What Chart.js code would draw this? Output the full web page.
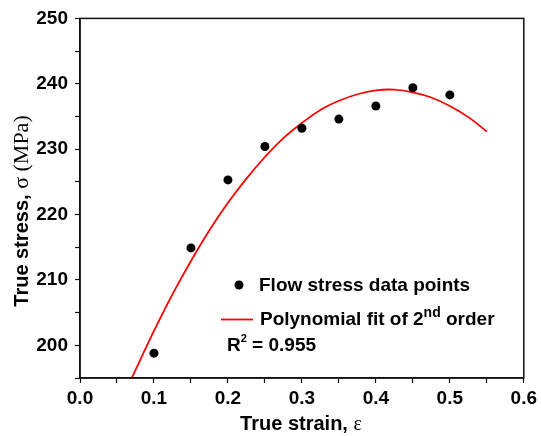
<html>
  <head>
    <script src="https://cdn.jsdelivr.net/npm/chart.js"></script>
    <style>
      body { margin: 0; background: #fff; }
      #wrap { width: 541px; height: 436px; position: relative; }
    </style>
  </head>
  <body>
    <div id="wrap"><canvas id="myChart"></canvas></div>
    <script>
      // measured flow stress at each strain
      const strain = [0.1, 0.15, 0.2, 0.25, 0.3, 0.35, 0.4, 0.45, 0.5];
      const stress = [198.8, 214.9, 225.3, 230.4, 233.2, 234.6, 236.6, 239.4, 238.3];

      // 2nd order polynomial fit, sampled along the curve
      const fitStrain = [0.07, 0.1, 0.125, 0.15, 0.175, 0.2, 0.225, 0.25, 0.275, 0.3, 0.325, 0.35,
        0.375, 0.4, 0.425, 0.45, 0.475, 0.5, 0.525, 0.55];
      const fitStress = [195.0, 202.2, 207.8, 212.9, 217.6, 221.8, 225.5, 228.8, 231.7, 234.0, 236.0, 237.4,
        238.4, 239.0, 239.1, 238.7, 237.9, 236.6, 234.9, 232.7];

      const xTicks = [0.0, 0.1, 0.2, 0.3, 0.4, 0.5, 0.6];
      const yTicks = [200, 210, 220, 230, 240, 250];

      const SANS = "'Liberation Sans', Arial, sans-serif";
      const SERIF = "'Liberation Serif', 'Times New Roman', serif";

      const isMajor = (v, list) => list.some(t => Math.abs(t - v) < 1e-6);

      // frame, axis titles and the inset legend
      const decorations = {
        id: 'decorations',
        afterDraw(chart) {
          const ctx = chart.ctx;
          const a = chart.chartArea;
          ctx.save();
          ctx.strokeStyle = '#111';
          ctx.lineWidth = 1.5;
          ctx.strokeRect(a.left, a.top, a.right - a.left, a.bottom - a.top);

          ctx.fillStyle = '#000';
          ctx.textBaseline = 'alphabetic';

          // x title
          const xa = 'True strain, ';
          const xb = '\u03b5';
          ctx.font = 'bold 20px ' + SANS;
          const wa = ctx.measureText(xa).width;
          ctx.font = '20px ' + SERIF;
          const wb = ctx.measureText(xb).width;
          let x0 = 301 - (wa + wb) / 2;
          ctx.font = 'bold 20px ' + SANS;
          ctx.fillText(xa, x0, 430);
          ctx.font = '20px ' + SERIF;
          ctx.fillText(xb, x0 + wa, 430);

          // y title
          ctx.save();
          ctx.translate(28, 211);
          ctx.rotate(-Math.PI / 2);
          const ya = 'True stress, ';
          const yb = '\u03c3 (MPa)';
          ctx.font = 'bold 20px ' + SANS;
          const ha = ctx.measureText(ya).width;
          ctx.font = '22px ' + SERIF;
          const hb = ctx.measureText(yb).width;
          let y0 = -(ha + hb) / 2;
          ctx.font = 'bold 20px ' + SANS;
          ctx.fillText(ya, y0, 0);
          ctx.font = '22px ' + SERIF;
          ctx.fillText(yb, y0 + ha, 0);
          ctx.restore();

          // legend
          ctx.beginPath();
          ctx.arc(239, 285, 4.5, 0, Math.PI * 2);
          ctx.fill();
          ctx.font = 'bold 19px ' + SANS;
          ctx.fillText('Flow stress data points', 259, 291);

          ctx.strokeStyle = '#ff0000';
          ctx.lineWidth = 1.8;
          ctx.beginPath();
          ctx.moveTo(221, 319.5);
          ctx.lineTo(253, 319.5);
          ctx.stroke();

          let lx = 260;
          const part1 = 'Polynomial fit of 2';
          ctx.font = 'bold 19px ' + SANS;
          ctx.fillText(part1, lx, 325);
          lx += ctx.measureText(part1).width;
          ctx.font = 'bold 14px ' + SANS;
          ctx.fillText('nd', lx, 317);
          lx += ctx.measureText('nd').width;
          ctx.font = 'bold 19px ' + SANS;
          ctx.fillText(' order', lx, 325);

          let rx = 227;
          ctx.fillText('R', rx, 351);
          rx += ctx.measureText('R').width;
          ctx.font = 'bold 11px ' + SANS;
          ctx.fillText('2', rx, 342);
          rx += ctx.measureText('2').width;
          ctx.font = 'bold 19px ' + SANS;
          ctx.fillText(' = 0.955', rx, 351);
          ctx.restore();
        }
      };

      const config = {
        type: 'scatter',
        data: {
          datasets: [
            {
              label: 'Flow stress data points',
              data: strain.map((e, i) => ({ x: e, y: stress[i] })),
              backgroundColor: '#000',
              borderWidth: 0,
              pointRadius: 4.5,
              order: 1
            },
            {
              label: 'Polynomial fit of 2nd order',
              data: fitStrain.map((e, i) => ({ x: e, y: fitStress[i] })),
              showLine: true,
              borderColor: '#ff0000',
              borderWidth: 1.8,
              pointRadius: 0,
              tension: 0.4,
              order: 2
            }
          ]
        },
        options: {
          responsive: true,
          maintainAspectRatio: false,
          animation: false,
          layout: { padding: { top: 16, right: 15, left: 0, bottom: 0 } },
          plugins: { legend: { display: false }, tooltip: { enabled: false } },
          scales: {
            x: {
              type: 'linear',
              min: 0,
              max: 0.6,
              afterFit: s => { s.height = 58; },
              border: { display: true, color: '#111', width: 1.5 },
              grid: { drawOnChartArea: false, drawTicks: true, tickLength: 5, color: '#111', tickWidth: 1.2 },
              ticks: {
                stepSize: 0.05,
                autoSkip: false,
                maxRotation: 0,
                padding: 4,
                color: '#000',
                font: { family: SANS, size: 19, weight: 'bold' },
                callback: v => isMajor(v, xTicks) ? v.toFixed(1) : ''
              }
            },
            y: {
              min: 195,
              max: 250,
              afterFit: s => { s.width = 80; },
              border: { display: true, color: '#111', width: 1.5 },
              grid: { drawOnChartArea: false, drawTicks: true, tickLength: 5, color: '#111', tickWidth: 1.2 },
              ticks: {
                stepSize: 5,
                autoSkip: false,
                padding: 7,
                color: '#000',
                font: { family: SANS, size: 19, weight: 'bold' },
                callback: v => isMajor(v, yTicks) ? String(v) : ''
              }
            }
          }
        },
        plugins: [decorations]
      };

      const ctx = document.getElementById('myChart').getContext('2d');
      const myChart = new Chart(ctx, config);
    </script>
  </body>
</html>
